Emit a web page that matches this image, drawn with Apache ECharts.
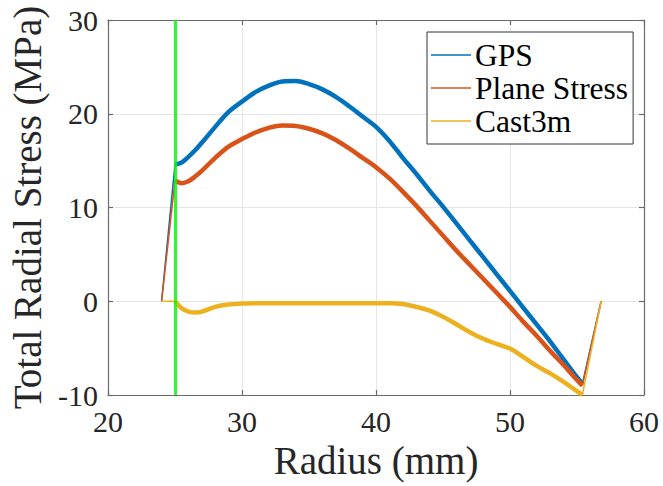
<!DOCTYPE html>
<html><head><meta charset="utf-8">
<script src="https://cdn.jsdelivr.net/npm/echarts@6/dist/echarts.min.js"></script>
<style>html,body{margin:0;padding:0;background:#fff}#c{width:663px;height:486px}</style>
</head><body><div id="c"></div>
<script>
const radius = [24,25,25.5,26,26.5,27,28,29,30,31,32,33,34,35,36,37,38,39,40,41,42,43,44,45,46,47,48,49,50,51,52,53,54,55,55.4,56.8];
const gps = [0,14.6,14.8,15.4,16.1,16.9,18.6,20.2,21.3,22.3,23.0,23.45,23.5,23.15,22.6,21.8,20.8,19.7,18.6,17.1,15.3,13.6,11.8,10.1,8.3,6.5,4.7,2.9,1.1,-0.7,-2.5,-4.3,-6.2,-8.1,-8.8,0];
const planeStress = [0,12.9,12.6,12.8,13.3,13.9,15.3,16.5,17.3,18.0,18.5,18.75,18.7,18.4,17.9,17.2,16.3,15.3,14.3,13.1,11.7,10.2,8.6,7.0,5.4,3.9,2.4,0.9,-0.6,-2.2,-3.7,-5.3,-6.8,-8.4,-9.0,0];
const cast3m = [0,0,-0.75,-1.1,-1.2,-1.1,-0.6,-0.35,-0.25,-0.2,-0.2,-0.2,-0.2,-0.2,-0.2,-0.2,-0.2,-0.2,-0.2,-0.2,-0.3,-0.6,-1.0,-1.65,-2.45,-3.3,-4.0,-4.55,-5.05,-5.95,-6.9,-7.7,-8.6,-9.6,-10,0];
const seriesNames = ['GPS','Plane Stress','Cast3m'];
const seriesColors = ['#0072BD','#D95319','#EDB120'];
const interfaceRadius = 25;
const xRange = [20,60], yRange = [-10,30];

const font = "Liberation Serif";
const allVals = [gps, planeStress, cast3m];
const series = [];
allVals.forEach((vals, k) => {
  const pts = radius.map((r,i)=>[r, vals[i]]);
  const n = pts.length;
  series.push({name: seriesNames[k], type:'line', data: pts.slice(1, n-1), showSymbol:false, symbol:'none', smooth:0.35,
    lineStyle:{color:seriesColors[k], width:4.5}, itemStyle:{color:seriesColors[k]}, z: 2+k, animation:false});
  series.push({name: seriesNames[k]+'_a', type:'line', data: [pts[0], pts[1]], showSymbol:false, symbol:'none',
    lineStyle:{color:seriesColors[k], width:1.5}, z: 2+k, animation:false});
  series.push({name: seriesNames[k]+'_b', type:'line', data: [pts[n-2], pts[n-1]], showSymbol:false, symbol:'none',
    lineStyle:{color:seriesColors[k], width:1.5}, z: 2+k, animation:false});
});
series.push({name:'interface', type:'line', data:[], z:10, animation:false,
  markLine:{silent:true, symbol:'none', label:{show:false}, animation:false,
    lineStyle:{color:'#00ff00', width:3, type:'solid', opacity:0.85}, data:[{xAxis: interfaceRadius}]}});

const axisLineStyle = {color:'#6b6b6b', width:1.2};
const chart = echarts.init(document.getElementById('c'), null, {renderer:'svg'});
chart.setOption({
  backgroundColor:'#fff',
  animation:false,
  textStyle:{fontFamily:font},
  grid:{left:108, right:19, top:20, bottom:91, containLabel:false, outerBoundsMode:'none'},
  legend:{
    data: seriesNames.map(n=>({name:n, icon:'rect'})),
    orient:'vertical', left:427, top:32, itemWidth:40, itemHeight:1.5, itemGap:1,
    padding:[7,5,7,4], borderColor:'#333', borderWidth:1, backgroundColor:'#fff',
    textStyle:{fontFamily:font, fontSize:31.5, color:'#000', lineHeight:30, padding:[0,0,0,-1]},
    selectedMode:false, z:20
  },
  xAxis:[{
    type:'value', min:xRange[0], max:xRange[1], interval:10, position:'bottom',
    name:'Radius (mm)', nameLocation:'middle', nameGap:46, nameMoveOverlap:false,
    nameTextStyle:{fontFamily:font, fontSize:39, color:'#262626'},
    axisLine:{show:true, onZero:false, lineStyle:axisLineStyle},
    axisTick:{show:true, inside:true, length:5, lineStyle:axisLineStyle},
    axisLabel:{fontFamily:font, fontSize:30, color:'#262626', margin:11},
    splitLine:{show:true, lineStyle:{color:'#e6e6e6', width:1}}
  },{
    type:'value', min:xRange[0], max:xRange[1], interval:10, position:'top',
    axisLine:{show:true, onZero:false, lineStyle:axisLineStyle},
    axisTick:{show:true, inside:true, length:5, lineStyle:axisLineStyle},
    axisLabel:{show:false}, splitLine:{show:false}
  }],
  yAxis:[{
    type:'value', min:yRange[0], max:yRange[1], interval:10, position:'left',
    name:'Total Radial Stress (MPa)', nameLocation:'middle', nameGap:61, nameRotate:90, nameMoveOverlap:false,
    nameTextStyle:{fontFamily:font, fontSize:39, color:'#262626'},
    axisLine:{show:true, onZero:false, lineStyle:axisLineStyle},
    axisTick:{show:true, inside:true, length:5, lineStyle:axisLineStyle},
    axisLabel:{fontFamily:font, fontSize:30, color:'#262626', margin:10},
    splitLine:{show:true, lineStyle:{color:'#e6e6e6', width:1}}
  },{
    type:'value', min:yRange[0], max:yRange[1], interval:10, position:'right',
    axisLine:{show:true, onZero:false, lineStyle:axisLineStyle},
    axisTick:{show:true, inside:true, length:5, lineStyle:axisLineStyle},
    axisLabel:{show:false}, splitLine:{show:false}
  }],
  series: series
});
</script></body></html>
